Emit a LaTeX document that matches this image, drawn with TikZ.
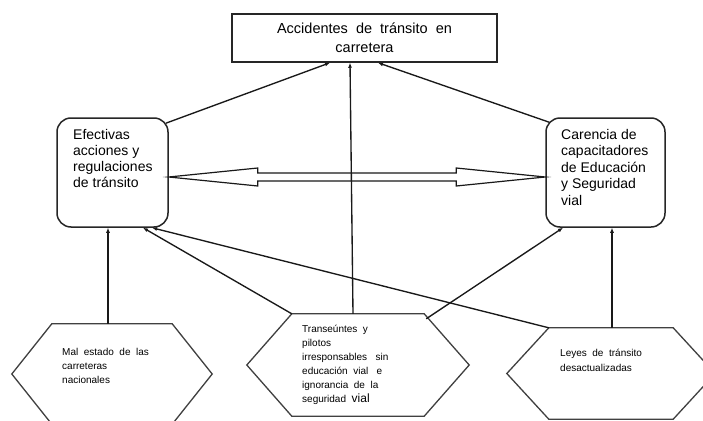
\documentclass[tikz,border=0pt]{standalone}
\usepackage{fontspec}
\setmainfont{Liberation Sans}
\usetikzlibrary{calc,arrows.meta}
\begin{document}
\begin{tikzpicture}[x=1pt,y=-1pt,
  box/.style={draw=black!85, line width=1.5pt, inner sep=0pt},
  rbx/.style={draw=black!85, line width=1.5pt, rounded corners=14pt, inner sep=0pt},
  hexa/.style={inner sep=0pt},
  hexline/.style={draw=black!75, line width=1.3pt, line join=miter},
  conn/.style={draw=black!90, line width=1.35pt, -{Latex[length=5pt,width=4pt]}},
  lbl/.style={anchor=north west, inner sep=0pt, align=left},
  hollow/.style={draw=black!90, line width=1.2pt, fill=white, line join=miter},
]
\useasboundingbox (0,0) rectangle (703,420);
\fill[white] (0,0) rectangle (703,420);

% top box
\node[box, minimum width=265pt, minimum height=48pt, align=center,
      font=\fontsize{14.5}{19}\selectfont] (top) at (364.5,38)
      {Accidentes\ \ de\ \ tránsito\ \ en\\carretera};

% side boxes
\node[rbx, minimum width=111pt, minimum height=109pt] (lbox) at (112.5,172.5) {};
\node[lbl, font=\fontsize{14}{16}\selectfont] (ltext) at (73,128.7)
      {Efectivas\\acciones y\\regulaciones\\de tránsito};

\node[rbx, minimum width=119pt, minimum height=109pt] (rbox) at (605.5,172.5) {};
\node[lbl, font=\fontsize{14}{16.5}\selectfont] (rtext) at (561,128.7)
      {Carencia de\\capacitadores\\de Educación\\y Seguridad\\vial};

% hexagons
\node[hexa, minimum width=200pt, minimum height=100pt] (lhex) at (112,374) {};
\draw[hexline] ($(lhex.north west)+(40,0)$) -- ($(lhex.north east)+(-40,0)$) -- (lhex.east)
  -- ($(lhex.south east)+(-40,0)$) -- ($(lhex.south west)+(40,0)$) -- (lhex.west) -- cycle;
\node[lbl, font=\fontsize{10}{14}\selectfont] (lhtext) at (62,348)
      {Mal\ \ estado\ \ de\ \ las\\carreteras\\nacionales};

\node[hexa, minimum width=222pt, minimum height=102pt] (mhex) at (358,365) {};
\draw[hexline] ($(mhex.north west)+(45,0)$) -- ($(mhex.north east)+(-45,0)$) -- (mhex.east)
  -- ($(mhex.south east)+(-45,0)$) -- ($(mhex.south west)+(45,0)$) -- (mhex.west) -- cycle;
\node[lbl, font=\fontsize{10}{14}\selectfont] (mhtext) at (302,325)
      {Transeúntes\ \ y\\pilotos\\irresponsables\ \ \ sin\\educación\ \ vial\ \ \ e\\ignorancia\ \ de\ \ la\\seguridad\ \ {\fontsize{12}{14}\selectfont vial}};

\node[hexa, minimum width=208pt, minimum height=91pt] (rhex) at (611,373.5) {};
\draw[hexline] ($(rhex.north west)+(42,0)$) -- ($(rhex.north east)+(-42,0)$) -- (rhex.east)
  -- ($(rhex.south east)+(-42,0)$) -- ($(rhex.south west)+(42,0)$) -- (rhex.west) -- cycle;
\node[lbl, font=\fontsize{10}{15}\selectfont] (rhtext) at (560,349)
      {Leyes\ \ de\ \ tránsito\\desactualizadas};

% double hollow arrow
\coordinate (dl) at ($(lbox.east)+(0,4.5)$);
\coordinate (dr) at ($(rbox.west)+(0,4.5)$);
\draw[hollow] (dl) -- ++(89,-9) -- ++(0,5) -- ($(dr)+(-89,-4)$) -- ++(0,-5) -- (dr)
  -- ++(-89,9) -- ++(0,-5) -- ($(dl)+(89,4)$) -- ++(0,5) -- cycle;

% connectors
\draw[conn] ($(lbox.north east)+(-3,6)$) -- ($(top.south)+(-34.5,0)$);
\draw[conn] ($(mhex.north)+(-5,0)$) -- ($(top.south)+(-14.5,0)$);
\draw[conn] ($(rbox.north west)+(4,5)$) -- ($(top.south)+(13.5,0)$);
\draw[conn] ($(lhex.north)+(-4,0)$) -- ($(lbox.south)+(-4.5,0)$);
\draw[conn] ($(mhex.north west)+(45,0)$) -- ($(lbox.south)+(30.5,0)$);
\draw[conn] ($(rhex.north west)+(42,0)$) -- ($(lbox.south)+(39.5,0)$);
\draw[conn] ($(mhex.north east)+(-43,5)$) -- ($(rbox.south)+(-42.5,0)$);
\draw[conn] ($(rhex.north)+(1,0)$) -- ($(rbox.south)+(6.5,0)$);
\end{tikzpicture}
\end{document}
